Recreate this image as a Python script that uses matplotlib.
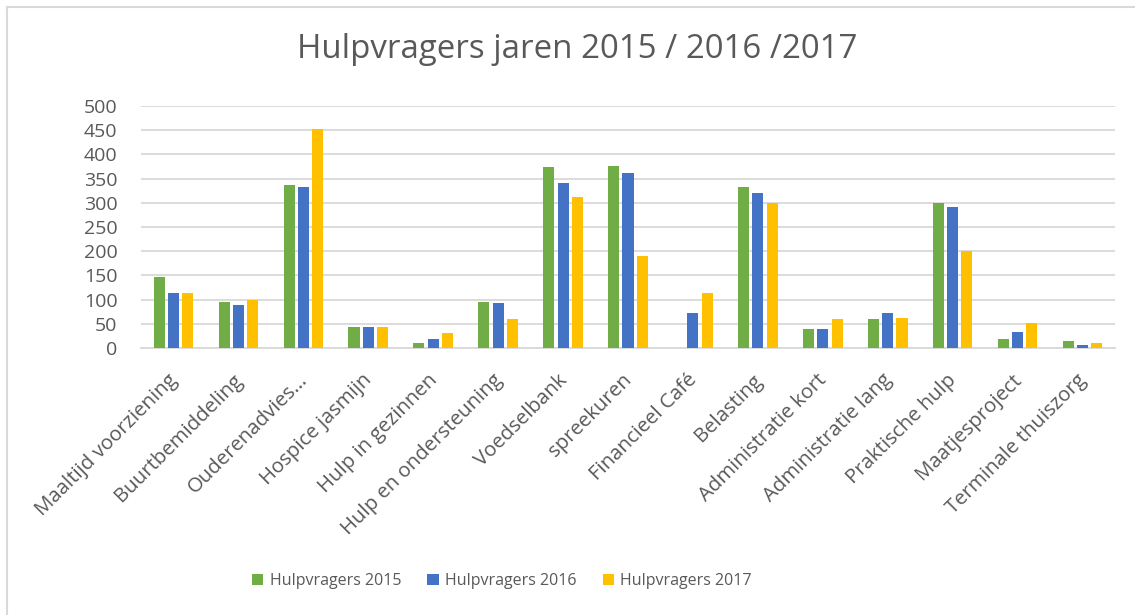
import numpy as np
import matplotlib.pyplot as plt
from matplotlib.lines import Line2D
from matplotlib.transforms import ScaledTranslation

categories = ["Maaltijd voorziening", "Buurtbemiddeling", "Ouderenadvies\u2026",
              "Hospice jasmijn", "Hulp in gezinnen", "Hulp en ondersteuning",
              "Voedselbank", "spreekuren", "Financieel Caf\u00e9", "Belasting",
              "Administratie kort", "Administratie lang", "Praktische hulp",
              "Maatjesproject", "Terminale thuiszorg"]
hv2015 = [146, 96, 336, 43, 10, 96, 373, 377, 0, 332, 39, 59, 299, 18, 14]
hv2016 = [113, 88, 332, 43, 18, 92, 340, 361, 72, 320, 39, 72, 291, 34, 6]
hv2017 = [113, 100, 452, 43, 30, 59, 311, 191, 113, 299, 59, 63, 200, 51, 10]
series = ["Hulpvragers 2015", "Hulpvragers 2016", "Hulpvragers 2017"]
colors = ["#70AD47", "#4472C4", "#FFC000"]
yticks = [0, 50, 100, 150, 200, 250, 300, 350, 400, 450, 500]

plt.rcParams['font.family'] = ['Open Sans', 'DejaVu Sans']
txt = "#595959"
grid = "#D9D9D9"

fig = plt.figure(figsize=(11.35, 6.15), dpi=100)
ax = fig.add_axes([141/1135, 1 - 348/615, (1115 - 141)/1135, (348 - 106)/615])

x = np.arange(len(categories))
w = 0.17
step = 0.22
for i, (vals, name, c) in enumerate(zip([hv2015, hv2016, hv2017], series, colors)):
    ax.bar(x + (i - 1) * step, vals, width=w, color=c, label=name, zorder=3)

ax.set_xlim(-0.5, len(categories) - 0.5)
ax.set_ylim(0, 500)
ax.set_yticks(yticks)
ax.set_yticklabels([str(v) for v in yticks], fontsize=14, color=txt)
ax.yaxis.grid(True, color=grid, linewidth=1.3, zorder=0)
ax.set_axisbelow(True)
ax.tick_params(axis='both', length=0)
ax.tick_params(axis='y', pad=17)
ax.set_xticks(x)
ax.set_xticklabels(categories, rotation=45, ha='right', rotation_mode='anchor',
                   fontsize=14.7, color=txt)
ax.tick_params(axis='x', pad=16)
shift = ScaledTranslation(-0.06, 0, fig.dpi_scale_trans)
for lbl in ax.get_xticklabels():
    lbl.set_transform(lbl.get_transform() + shift)
for s in ['top', 'right', 'left']:
    ax.spines[s].set_visible(False)
ax.spines['bottom'].set_color(grid)
ax.spines['bottom'].set_linewidth(1.3)

fig.text(577/1135, 1 - 50/615, "Hulpvragers jaren 2015 / 2016 /2017", ha='center', va='center',
         fontsize=23.8, color=txt)

fig.legend(loc='center', bbox_to_anchor=(502/1135, 1 - 581/615), ncol=3, frameon=False,
           fontsize=11.5, handlelength=0.7, handleheight=0.7, handletextpad=0.4,
           columnspacing=1.65, labelcolor=txt)

# chart frame
fig.add_artist(Line2D([7/1135, 7/1135], [0, 1 - 7/615], color=grid, linewidth=1.5))
fig.add_artist(Line2D([7/1135, 1], [1 - 7/615, 1 - 7/615], color=grid, linewidth=1.5))

plt.savefig("out.png", dpi=100)
